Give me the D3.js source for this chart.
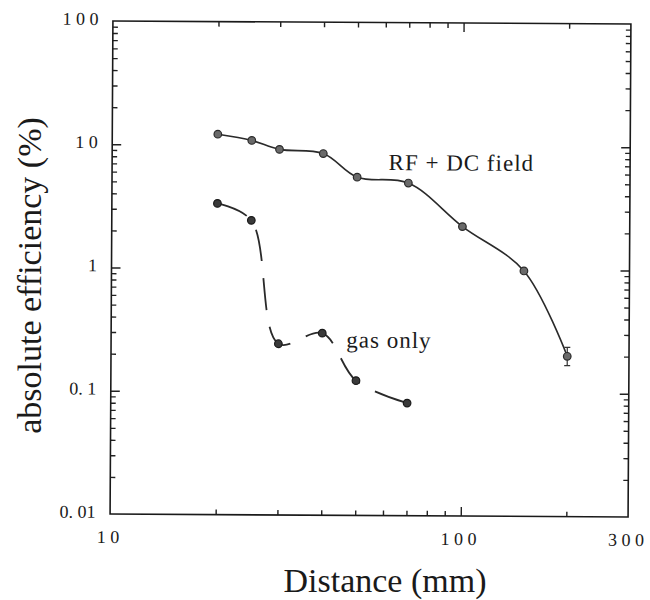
<!DOCTYPE html>
<html>
<head>
<meta charset="utf-8">
<script src="https://cdn.jsdelivr.net/npm/d3@7"></script>
<style>
  body { margin: 0; background: #fff; }
</style>
</head>
<body>
<svg id="chart" width="650" height="600"></svg>
<script>
// Absolute ion transport efficiency versus distance, log-log plot
const rfDistance = [20, 25, 30, 40, 50, 70, 100, 150, 200];
const rfEfficiency = [12.2, 10.9, 9.25, 8.6, 5.55, 5.0, 2.23, 0.98, 0.2];
const gasDistance = [20, 25, 30, 40, 50, 70];
const gasEfficiency = [3.35, 2.45, 0.245, 0.30, 0.124, 0.082];
const errDistance = [200];
const errLow = [0.168];
const errHigh = [0.236];
const xTickValues = [10, 100, 300];
const xTickLabels = ["1 0", "1 0 0", "3 0 0"];
const yTickValues = [0.01, 0.1, 1, 10, 100];
const yTickLabels = ["0. 01", "0. 1", "1", "1 0", "1 0 0"];
const seriesLabels = ["RF + DC field", "gas only"];
const xTitle = "Distance (mm)";
const yTitle = "absolute efficiency (%)";

const W = 518, H = 493;
const marginLeft = 111.5, marginTop = 22.5;
const serif = "'Liberation Serif', 'Times New Roman', Times, serif";
const ink = "#1a1a1a";

const svg = d3.select("#chart")
  .attr("font-family", serif)
  .style("font-family", serif);
const x = d3.scaleLog().domain([10, 300]).range([0, W]);
const y = d3.scaleLog().domain([0.01, 100]).range([H, 0]);

const g = svg.append("g")
  .attr("transform", `translate(${marginLeft},${marginTop}) rotate(0.33,${W / 2},${H / 2})`);

// minor / major tick positions
const xMinor = [20, 30, 40, 50, 60, 70, 80, 90, 200];
const xMajor = [100];
const yMinor = [];
[0.01, 0.1, 1, 10].forEach(d => { for (let k = 2; k <= 9; k++) yMinor.push(+(d * k).toPrecision(3)); });
const yMajor = [0.1, 1, 10];

function tickGroup(axis, tr) {
  const a = g.append("g").attr("transform", tr).call(axis);
  a.select(".domain").remove();
  a.selectAll("text").remove();
  a.selectAll("line").attr("stroke", "#222").attr("stroke-width", 1.4);
  return a;
}
const fmt = () => "";
tickGroup(d3.axisBottom(x).tickValues(xMinor).tickSize(-5).tickFormat(fmt), `translate(0,${H})`);
tickGroup(d3.axisBottom(x).tickValues(xMajor).tickSize(-9).tickFormat(fmt), `translate(0,${H})`);
tickGroup(d3.axisTop(x).tickValues(xMinor).tickSize(-5).tickFormat(fmt), `translate(0,0)`);
tickGroup(d3.axisTop(x).tickValues(xMajor).tickSize(-9).tickFormat(fmt), `translate(0,0)`);
tickGroup(d3.axisLeft(y).tickValues(yMinor).tickSize(-5).tickFormat(fmt), `translate(0,0)`);
tickGroup(d3.axisLeft(y).tickValues(yMajor).tickSize(-9).tickFormat(fmt), `translate(0,0)`);
tickGroup(d3.axisRight(y).tickValues(yMinor).tickSize(-5).tickFormat(fmt), `translate(${W},0)`);
tickGroup(d3.axisRight(y).tickValues(yMajor).tickSize(-9).tickFormat(fmt), `translate(${W},0)`);

// frame
g.append("rect").attr("x", 0).attr("y", 0).attr("width", W).attr("height", H)
  .attr("fill", "none").attr("stroke", ink).attr("stroke-width", 1.6);

// tick labels
g.selectAll(".ylab").data(yTickValues).join("text")
  .attr("class", "ylab")
  .attr("x", -14.5).attr("y", d => y(d) + 4)
  .attr("text-anchor", "end").attr("font-size", 18).attr("fill", ink)
  .text((d, i) => yTickLabels[i]);
g.selectAll(".xlab").data(xTickValues).join("text")
  .attr("class", "xlab")
  .attr("x", d => x(d) - 2).attr("y", H + 29)
  .attr("text-anchor", "middle").attr("font-size", 18).attr("fill", ink)
  .text((d, i) => xTickLabels[i]);

// curves
const rf = rfDistance.map((d, i) => [d, rfEfficiency[i]]);
const gas = gasDistance.map((d, i) => [d, gasEfficiency[i]]);
const smooth = d3.line()
  .x(d => x(d[0])).y(d => y(d[1]))
  .curve(d3.curveCatmullRom.alpha(0.5));

g.append("path").datum(rf).attr("d", smooth)
  .attr("fill", "none").attr("stroke", "#2a2a2a").attr("stroke-width", 1.6);
g.append("path").datum(gas).attr("d", smooth)
  .attr("fill", "none").attr("stroke", "#2a2a2a").attr("stroke-width", 1.8)
  .attr("stroke-dasharray", "32,17");

// error bar
errDistance.forEach((d, i) => {
  const cx = x(d);
  g.append("line").attr("x1", cx).attr("x2", cx).attr("y1", y(errLow[i])).attr("y2", y(errHigh[i]))
    .attr("stroke", "#333").attr("stroke-width", 1.2);
  [errLow[i], errHigh[i]].forEach(v => g.append("line")
    .attr("x1", cx - 3).attr("x2", cx + 3).attr("y1", y(v)).attr("y2", y(v))
    .attr("stroke", "#333").attr("stroke-width", 1.2));
});

// markers
g.selectAll(".rfdot").data(rf).join("circle")
  .attr("class", "rfdot")
  .attr("cx", d => x(d[0])).attr("cy", d => y(d[1])).attr("r", 3.8)
  .attr("fill", "#6a6a6a").attr("stroke", "#2a2a2a").attr("stroke-width", 1.2);
g.selectAll(".gasdot").data(gas).join("circle")
  .attr("class", "gasdot")
  .attr("cx", d => x(d[0])).attr("cy", d => y(d[1])).attr("r", 3.8)
  .attr("fill", "#3a3a3a").attr("stroke", ink).attr("stroke-width", 1.2);

// series annotations
g.append("text").attr("x", 276.5).attr("y", 147.5).attr("fill", ink)
  .attr("font-size", 23).attr("letter-spacing", 1).text(seriesLabels[0]);
g.append("text").attr("x", 235.2).attr("y", 325.2).attr("fill", ink)
  .attr("font-size", 23).attr("letter-spacing", 1).text(seriesLabels[1]);

// axis titles
svg.append("text").attr("x", 283.5).attr("y", 592).attr("fill", ink)
  .attr("font-size", 34).text(xTitle);
svg.append("text").attr("fill", ink)
  .attr("transform", "translate(41,275.5) rotate(-90)")
  .attr("text-anchor", "middle").attr("font-size", 34).text(yTitle);
</script>
</body>
</html>
